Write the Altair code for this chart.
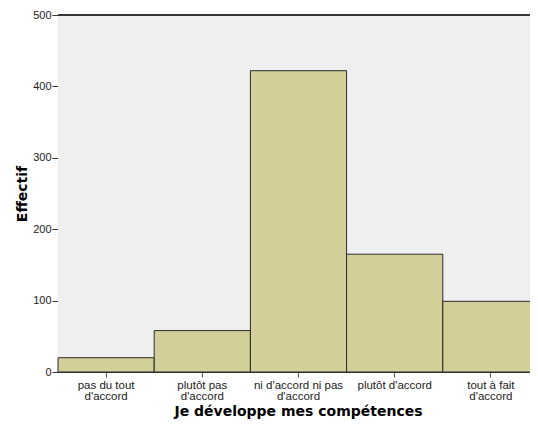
import altair as alt
import pandas as pd

categories = ["pas du tout|d'accord", "plutôt pas|d'accord", "ni d'accord ni pas|d'accord",
              "plutôt d'accord", "tout à fait|d'accord"]
counts = [20, 58, 422, 165, 99]
y_ticks = [0, 100, 200, 300, 400, 500]

df = pd.DataFrame({"cat": categories, "n": counts})

font = "Liberation Sans"
tfont = "DejaVu Sans"
W = 472
H = 357

bars = alt.Chart(df).mark_bar(
    fill="#D3CF98", stroke="#2a2a2a", strokeWidth=1
).encode(
    x=alt.X("cat:N", sort=categories,
            scale=alt.Scale(paddingInner=0, paddingOuter=0, range=[0, 481]),
            axis=alt.Axis(title="Je développe mes compétences", labelAngle=0,
                          labelExpr="split(datum.label, '|')",
                          labelFont=font, labelFontSize=11.5, labelColor="#222",
                          labelLineHeight=11, labelPadding=2,
                          titleFont=tfont, titleFontSize=14, titleFontWeight="bold",
                          titleColor="#000", titlePadding=3, titleX=240,
                          tickSize=5, tickColor="#555", domainColor="#333")),
    y=alt.Y("n:Q", scale=alt.Scale(domain=[0, 500], nice=False),
            axis=alt.Axis(title="Effectif", values=y_ticks, grid=False,
                          labelFont=font, labelFontSize=11, labelColor="#222",
                          labelPadding=1,
                          titleFont=tfont, titleFontSize=14, titleFontWeight="bold",
                          titleColor="#000", titlePadding=3,
                          tickSize=6, tickColor="#333", domainColor="#333")),
)

top = alt.Chart(df).mark_rule(color="#333", strokeWidth=1).encode(
    y=alt.datum(500), x=alt.value(0), x2=alt.value(481)
)

bg = alt.Chart(df).mark_rect(fill="#EFEFEF").encode(
    x=alt.value(0), x2=alt.value(481), y=alt.value(0), y2=alt.value(H)
)

chart = alt.layer(bg, bars, top).properties(
    width=W, height=H,
    autosize=alt.AutoSizeParams(type="none"),
    padding={"left": 50, "top": 7, "right": 0, "bottom": 50},
).configure_view(
    stroke=None
).configure(background="white")

chart.save("out.html", embed_options={"renderer": "svg", "actions": False})
